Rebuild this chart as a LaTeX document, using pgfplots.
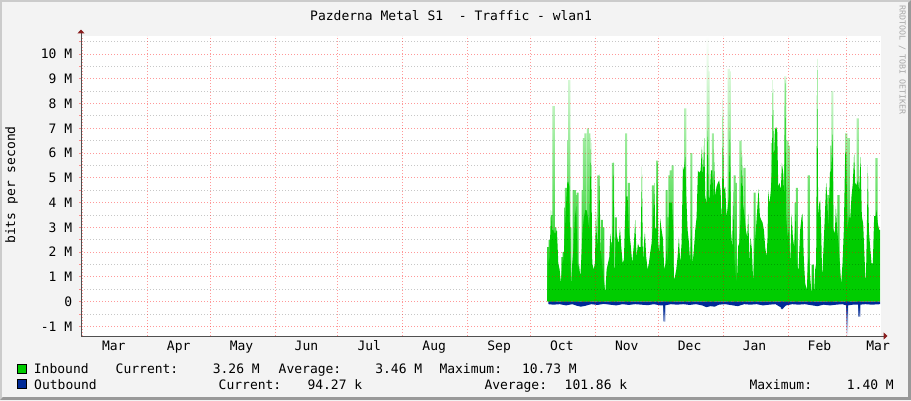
\documentclass[border=0pt]{standalone}
\usepackage{fontspec}
\setmainfont{DejaVu Sans Mono}
\usepackage{pgfplots}
\pgfplotsset{compat=1.18}
\usetikzlibrary{arrows.meta}

\definecolor{canvas}{HTML}{F3F3F3}
\definecolor{shadea}{HTML}{CBCBCB}
\definecolor{shadeb}{HTML}{999999}
\definecolor{inb}{HTML}{00CC00}
\definecolor{outb}{HTML}{002A97}
\definecolor{axcol}{HTML}{505050}
\definecolor{arrowcol}{HTML}{8A1E1E}
\definecolor{wmark}{HTML}{A8A8A8}
\newcommand\rf{\fontsize{13bp}{15bp}\selectfont}
\newcommand\wf{\fontsize{8.3bp}{10bp}\selectfont}

\begin{document}
\begin{tikzpicture}[x=1bp,y=1bp]
\useasboundingbox (0,0) rectangle (911,400);
% frame
\fill[shadea] (0,0) rectangle (911,400);
\fill[shadeb] (0,0) -- (911,0) -- (911,400) -- (908,397) -- (908,3) -- (3,3) -- cycle;
\fill[canvas] (2,3) rectangle (908,398);

\begin{axis}[
  at={(81bp,64bp)}, anchor=south west,
  scale only axis, width=800bp, height=300bp,
  xmin=-0.67, xmax=381.4, ymin=-1.385, ymax=10.727,
  axis background/.style={fill=white},
  axis on top,
  axis lines=left,
  x axis line style={draw=axcol, line width=1bp, -{Triangle[length=4bp,width=7bp,color=arrowcol]}, shorten >=-6.5bp},
  y axis line style={draw=axcol, line width=1bp, -{Triangle[length=4bp,width=7bp,color=arrowcol]}, shorten >=-6.5bp},
  tick align=outside,
  major tick length=2bp, minor tick length=2bp,
  xtick={15,46,76,107,137,168,199,229,260,290,321,352,380},
  xticklabels={Mar,Apr,May,Jun,Jul,Aug,Sep,Oct,Nov,Dec,Jan,Feb,Mar},
  xtick style={draw=none},
  extra x ticks={0,31,61,92,122,153,184,214,245,275,306,337,365},
  extra x tick labels={},
  extra x tick style={grid=major,
    major grid style={draw=red, draw opacity=0.4, dash pattern=on 1bp off 2bp, line width=1bp},
    tick style={draw=red!45, solid, line width=1bp}, major tick length=3bp},
  ytick={-1,0,1,2,3,4,5,6,7,8,9,10},
  yticklabels={-1 M,0,1 M,2 M,3 M,4 M,5 M,6 M,7 M,8 M,9 M,10 M},
  minor ytick={-0.5,0.5,1.5,2.5,3.5,4.5,5.5,6.5,7.5,8.5,9.5,10.5},
  ymajorgrids=true, yminorgrids=true,
  major grid style={draw=red, draw opacity=0.4, dash pattern=on 1bp off 2bp, line width=1bp},
  minor grid style={draw=black, draw opacity=0.22, dash pattern=on 1bp off 2bp, line width=1bp},
  ytick style={draw=red!45, line width=1bp},
  every minor tick/.append style={draw=black!25},
  yticklabel style={font=\rf, anchor=east, inner sep=0pt, xshift=-6.7bp},
  xticklabel style={font=\rf, anchor=base, inner sep=0pt, yshift=-12.5bp},
  clip=true,
]
% inbound peaks (faded tops)
\addplot[ybar, bar width=1.0, bar shift=0pt, draw=none, top color=white, bottom color=inb] coordinates {
(222.5,2.2)(223.1,2.5)(224.2,3.5)(224.9,7.9)(225.2,7.9)(225.8,3.0)(229.2,1.8)(229.8,2.0)
(230.5,3.8)(230.9,4.6)(232.0,6.5)(232.5,8.95)(233.0,3.0)(234.6,4.5)(235.2,4.5)(235.9,4.3)
(236.5,4.4)(238.9,4.5)(239.5,6.6)(240.2,6.8)(241.4,7.0)(242.1,6.8)(246.4,5.1)(248.1,3.3)
(248.8,3.0)(252.7,2.4)(253.4,5.6)(254.8,3.4)(259.7,6.8)(261.0,4.8)(272.5,4.7)(274.5,5.7)
(279.0,4.5)(279.6,3.4)(280.3,5.1)(280.9,5.3)(281.9,5.5)(287.9,7.8)(290.8,6.0)(298.6,10.73)
(299.05,9.3)(301.1,6.8)(308.7,9.4)(309.2,9.3)(311.45,5.1)(312.1,4.8)(314.3,6.5)(316.2,5.4)
(321.0,4.4)(329.3,6.4)(335.65,9.1)(336.8,6.5)(337.4,6.3)(340.6,4.0)(341.2,4.6)(346.9,5.1)
(348.8,1.5)(356.3,4.3)(357.6,6.3)(358.2,8.5)(361.1,4.3)(364.8,6.8)(366.0,6.6)(370.3,7.4)
(379.25,5.8)
};
% inbound body
\addplot[draw=none, fill=inb] coordinates {
(222.49,1.55)(223.13,1.8)(223.77,3.7)(224.24,2.9)(224.88,2.9)(225.2,2.8)(225.83,2.75)(226.63,2.9)
(227.27,1.55)(227.9,1.3)(228.54,0.75)(229.18,1.55)(229.82,1.7)(230.45,2.9)(230.93,3.85)(231.57,4.8)
(232.04,4.85)(232.52,4.65)(233.0,1.55)(233.32,0.63)(233.95,1.55)(234.59,2.2)(235.23,3.4)(235.86,3.85)
(236.5,1.3)(237.14,1.55)(237.78,1.0)(238.25,1.7)(238.89,2.9)(239.53,3.4)(240.16,3.7)(240.8,3.7)
(241.44,3.4)(242.07,2.9)(242.87,6.6)(243.51,1.55)(244.14,1.3)(244.78,1.55)(245.26,3.65)(245.89,2.2)
(246.37,2.9)(246.85,5.15)(247.49,2.1)(248.12,1.55)(248.76,1.0)(249.24,0.75)(249.72,0.35)(250.35,1.3)
(250.99,1.55)(251.63,1.8)(252.1,2.75)(252.74,2.1)(253.38,2.9)(253.7,5.65)(254.17,0.8)(254.81,2.9)
(255.45,2.6)(256.08,2.35)(256.72,3.0)(257.36,2.2)(258.0,1.55)(258.63,1.7)(259.11,3.25)(259.74,4.25)
(260.38,4.25)
(261.0,2.8)(261.8,2.35)(262.59,1.55)(263.39,2.35)(264.02,3.3)(264.66,1.8)(265.3,2.35)(265.94,2.2)
(266.57,2.2)(267.21,5.45)(267.69,1.55)(268.16,2.35)(268.64,2.8)(269.28,1.8)(269.92,1.3)(270.55,1.55)
(271.19,2.0)(271.83,2.35)(272.46,3.0)(273.1,4.8)(273.58,3.0)(274.05,2.9)(274.53,5.6)(275.01,2.35)
(275.49,1.95)(275.96,3.35)(276.6,2.9)(277.24,2.55)(277.88,1.3)(278.51,1.55)(278.99,2.1)(279.63,1.55)
(280.26,4.0)(280.9,4.0)(281.54,4.0)(282.17,2.9)(282.49,0.9)(282.97,1.0)(283.61,1.3)(284.24,1.8)
(284.88,2.6)(285.52,1.55)(286.15,2.35)(286.79,5.45)(287.27,5.3)(287.9,5.85)(288.38,4.25)(289.02,2.9)
(289.66,2.4)(290.29,1.55)(290.77,2.9)(291.41,1.55)(292.04,2.1)(292.68,2.9)(293.32,3.4)(293.95,5.3)
(294.59,5.2)(295.23,5.3)(295.86,6.25)(296.34,5.05)(296.98,6.6)(297.46,4.25)(298.09,3.95)(298.57,6.9)
(299.05,4.25)(299.53,4.15)(300.16,5.3)(300.8,5.3)(301.44,3.95)
(301.58,6.15)(302.21,4.25)(302.85,4.65)(303.49,4.8)(304.12,4.9)(304.76,4.5)(305.4,3.15)(305.88,8.17)
(306.35,4.5)(306.99,4.65)(307.63,3.45)(308.26,3.85)(308.74,4.25)(309.22,6.9)(309.7,2.9)(310.33,2.2)
(310.81,4.5)(311.45,1.55)(312.08,1.0)(312.56,0.75)(313.2,2.25)(313.68,2.35)(314.31,3.3)(314.95,6.1)
(315.59,3.9)(316.22,3.45)(316.86,2.9)(317.5,2.6)(317.98,3.55)(318.61,1.55)(319.09,2.6)(319.73,2.1)
(320.36,0.75)(321.0,2.2)(321.64,2.9)(322.27,3.7)(322.91,4.55)(323.55,3.45)(324.18,3.3)(324.82,3.2)
(325.46,2.9)(326.09,2.2)(326.73,1.8)(327.21,2.6)(327.53,4.45)(328.16,3.95)(328.8,4.5)(329.28,5.3)
(329.76,8.95)(330.23,5.6)(330.71,6.95)(331.35,7.05)(331.83,6.9)(332.3,4.65)(332.94,4.8)(333.58,4.5)
(334.05,5.6)(334.69,5.2)(335.17,4.25)(335.65,8.95)(336.12,3.45)(336.76,2.6)(337.4,2.9)(338.03,1.55)
(338.67,3.55)(339.31,2.6)(339.94,2.2)(340.58,3.55)(341.22,1.45)
(342.0,1.3)(342.79,2.9)(343.43,3.4)(343.91,3.55)(344.54,1.7)(345.18,0.75)(345.98,0.45)(346.45,1.55)
(346.93,1.8)(347.57,1.0)(348.2,0.35)(348.84,0.75)(349.48,0.45)(349.96,1.3)(350.43,1.55)(350.91,9.8)
(351.39,3.45)(351.87,3.95)(352.34,4.1)(352.82,2.9)(353.3,0.9)(353.94,2.2)(354.57,3.45)(355.21,4.8)
(355.69,4.25)(356.32,2.9)(356.96,5.2)(357.6,5.3)(358.23,6.75)(358.71,2.9)(359.35,2.75)(359.83,3.85)
(360.46,2.9)(361.1,2.35)(361.74,1.55)(362.37,0.7)(363.01,1.55)(363.65,2.9)(364.28,5.95)(364.76,6.1)
(365.4,2.9)(366.04,3.45)(366.67,3.35)(367.31,4.25)(367.95,4.8)(368.58,6.0)(369.06,4.8)(369.7,4.7)
(370.33,4.9)(370.97,4.5)(371.61,5.85)(372.24,3.45)(372.88,3.15)(373.52,1.8)(374.15,0.65)(374.63,2.9)
(375.11,5.45)(375.59,2.9)(376.22,2.2)(376.86,1.55)(377.5,1.55)(378.13,3.45)(378.77,3.45)(379.25,3.7)
(379.88,3.15)(380.52,2.9)(381.0,2.9)
} \closedcycle;
% outbound spikes (faded)
\addplot[ybar, bar width=1.0, bar shift=0pt, draw=none, top color=outb, bottom color=white] coordinates {
(277.9,-0.8)(334.1,-0.3)(365.2,-1.4)(371.0,-0.6)
};
% outbound body
\addplot[draw=none, fill=outb] coordinates {
(222.5,-0.1)(225,-0.12)(228,-0.1)(231,-0.15)(234,-0.1)(236,-0.16)(238,-0.2)(240,-0.17)
(243,-0.1)(246,-0.13)(249,-0.09)(252,-0.12)(255,-0.15)(258,-0.1)(261,-0.13)(264,-0.1)
(267,-0.12)(270,-0.14)(273,-0.1)(276,-0.15)(277.6,-0.15)(277.9,-0.55)(278.2,-0.15)(281,-0.1)
(284,-0.12)(287,-0.1)(290,-0.13)(293,-0.1)(296,-0.15)(298,-0.22)(300,-0.18)(302,-0.2)
(304,-0.12)(307,-0.1)(310,-0.14)(313,-0.18)(316,-0.1)(319,-0.12)(322,-0.1)(325,-0.15)
(328,-0.12)(331,-0.1)(333,-0.2)(334.5,-0.28)(336,-0.15)(339,-0.1)(342,-0.12)(345,-0.1)
(348,-0.14)(351,-0.18)(354,-0.12)(357,-0.15)(360,-0.12)(363,-0.1)(364.8,-0.15)(365.2,-0.55)
(365.6,-0.15)(368,-0.12)(370.6,-0.12)(371,-0.47)(371.4,-0.12)(374,-0.1)(377,-0.12)(381,-0.1)
} \closedcycle;
\end{axis}

% title, axis label, watermark
\node[anchor=base west, inner sep=0pt, font=\rf] at (310,380) {Pazderna Metal S1\ \ - Traffic - wlan1};
\node[rotate=90, anchor=base, inner sep=0pt, font=\rf] at (15,215) {bits per second};
\node[rotate=-90, inner sep=0pt, font=\wf, text=wmark] at (902.2,340) {RRDTOOL / TOBI OETIKER};

% legend
\filldraw[fill=inb, draw=black, line width=1bp] (17.5,27) rectangle (26.5,36);
\filldraw[fill=outb, draw=black, line width=1bp] (17.5,11.3) rectangle (26.5,20.3);
\begin{scope}[every node/.style={inner sep=0pt, font=\rf}]
\node[anchor=base west] at (33.7,26.7) {Inbound};
\node[anchor=base west] at (115.5,26.7) {Current:};
\node[anchor=base east] at (260,26.7) {3.26 M};
\node[anchor=base west] at (278.5,26.7) {Average:};
\node[anchor=base east] at (422.5,26.7) {3.46 M};
\node[anchor=base west] at (439.3,26.7) {Maximum:};
\node[anchor=base east] at (577,26.7) {10.73 M};
\node[anchor=base west] at (34,11) {Outbound};
\node[anchor=base west] at (218.5,11) {Current:};
\node[anchor=base east] at (362.5,11) {94.27 k};
\node[anchor=base west] at (484.3,11) {Average:};
\node[anchor=base east] at (627.5,11) {101.86 k};
\node[anchor=base west] at (749.3,11) {Maximum:};
\node[anchor=base east] at (894,11) {1.40 M};
\end{scope}
\end{tikzpicture}
\end{document}
